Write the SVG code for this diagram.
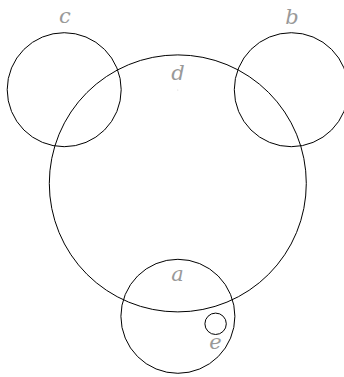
<svg xmlns="http://www.w3.org/2000/svg" width="344" height="377" viewBox="0 0 344 377">
<style>
.c{fill:none;stroke:#000;stroke-width:1}
.l{font-family:"DejaVu Serif",serif;font-style:italic;font-size:21px;fill:#999;text-anchor:middle}
</style>
<rect width="344" height="377" fill="#fff"/>
<g id="d"><circle class="c" cx="177.8" cy="183.4" r="128.5"/><text class="l" x="178" y="80">d</text><circle cx="177.8" cy="90" r="0.5" fill="#ccc"/></g>
<g id="c"><circle class="c" cx="64.2" cy="89.7" r="57"/><text class="l" x="65" y="23">c</text></g>
<g id="b"><circle class="c" cx="291.3" cy="89.7" r="57"/><text class="l" x="292" y="24">b</text></g>
<g id="a"><circle class="c" cx="177.9" cy="316.3" r="57"/><text class="l" x="177.5" y="281">a</text></g>
<g id="e"><circle class="c" cx="215.6" cy="323.8" r="10.7"/><text class="l" x="215.5" y="349">e</text></g>
<g id="connectors"/>
</svg>
